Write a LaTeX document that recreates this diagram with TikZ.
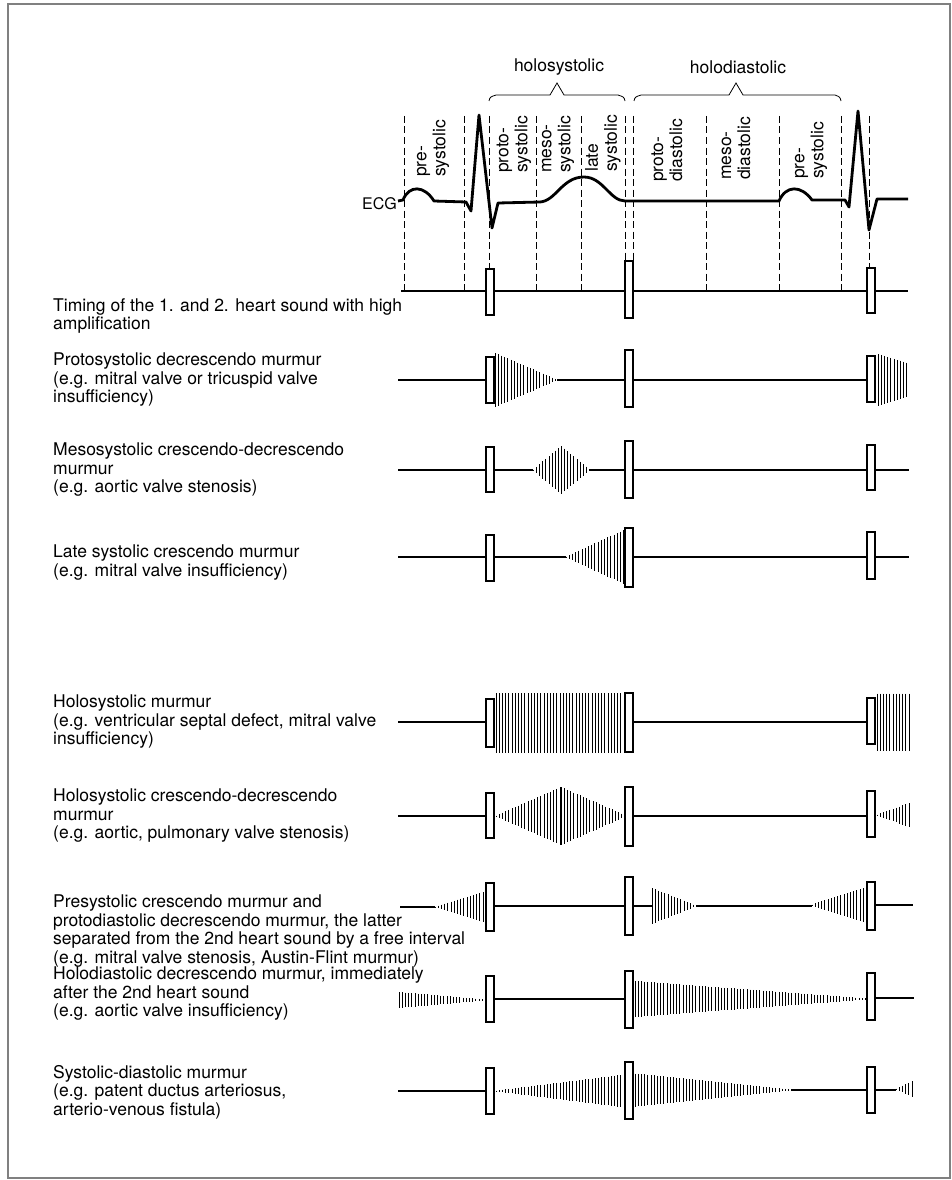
\documentclass[tikz,border=0pt]{standalone}
\usepackage{fontspec}
\setmainfont{TeX Gyre Heros}

% one murmur: lines from x #1 to x #2, half height #3 to #4, row at y #5
\newcommand{\murmur}[5]{%
  \pgfmathtruncatemacro{\mn}{(#2-#1)/3.2}
  \foreach \k in {0,...,\mn} {
    \pgfmathsetmacro{\mx}{#1+3.2*\k}
    \pgfmathsetmacro{\mh}{#3+(#4-#3)*(\mx-#1)/(#2-#1)}
    \draw[vib] (\mx,#5-\mh) -- (\mx,#5+\mh);
  }
}
% one heart sound box at x #1, from y #2 to y #3
\newcommand{\sound}[3]{\draw[hsbox] (#1-4,#2) rectangle (#1+4,#3);}

\begin{document}
\begin{tikzpicture}[x=1pt,y=-1pt,
    ecg/.style={line width=2.8pt, line join=round},
    phase/.style={dash pattern=on 7pt off 3.5pt, line width=0.7pt},
    trace/.style={line width=1.3pt},
    hsbox/.style={draw, line width=1.1pt, fill=white},
    vib/.style={line width=0.75pt},
    desc/.style={anchor=north west, align=left, inner sep=0pt,
      font=\fontsize{17.5}{18.5}\selectfont},
    phasetxt/.style={rotate=90, anchor=west, align=left, inner sep=0pt,
      font=\fontsize{17.5}{19}\selectfont}]
  \useasboundingbox (0,0) rectangle (952,1180);
  % Frame
  \draw[gray, line width=1.5pt] (8,4) rectangle (950,1178);

  % Braces
  \draw[line width=0.8pt] (489,101) .. controls (490,97) .. (496,95) -- (550,95)
    -- (557,83) -- (564,95) -- (618,95) .. controls (624,97) .. (625,101);
  \draw[line width=0.8pt] (634,101) .. controls (635,97) .. (641,95) -- (729,95)
    -- (736,83) -- (743,95) -- (835,95) .. controls (840,97) .. (841,101);
  \node[font=\fontsize{17.5}{19}\selectfont] (holosys) at (559,67) {holosystolic};
  \node[font=\fontsize{17.5}{19}\selectfont] (holodia) at (738,67) {holodiastolic};

  % Phase borders
  \foreach \x/\yb in {404/291, 464/291, 489/269, 536/291, 581/291, 625/261,
      633/261, 706/291, 779/291, 841/291, 869/268}
    \draw[phase] (\x,116) -- (\x,\yb);

  % Phase labels
  \node[phasetxt] (pre1) at (433,177) {pre-\\systolic};
  \node[phasetxt] (protosys) at (514,173) {proto-\\systolic};
  \node[phasetxt] (mesosys) at (558,173) {meso-\\systolic};
  \node[phasetxt] (latesys) at (603,172) {late\\systolic};
  \node[phasetxt] (protodia) at (667,182) {proto-\\diastolic};
  \node[phasetxt] (mesodia) at (736,180) {meso-\\diastolic};
  \node[phasetxt] (pre2) at (811,179) {pre-\\systolic};

  % ECG
  \node[anchor=east, inner sep=0pt, font=\fontsize{16}{18}\selectfont] (ecglab) at (397,204) {ECG};
  \draw[ecg] (398,201) -- (403,200) .. controls (409,185) and (424,185) .. (434,201)
    -- (466,202) -- (471,211) -- (479,115) -- (492,228) -- (498,203) -- (540,202)
    .. controls (556,201) and (562,177) .. (584,177)
    .. controls (603,177) and (610,201) .. (625,201) -- (779,201)
    .. controls (786,185) and (801,185) .. (812,200) -- (845,200) -- (849,207)
    -- (858,111) -- (869,230) -- (877,199) -- (908,199);

  % Timing of the heart sounds
  \node[desc] (timing) at (53,298) {Timing of the 1. and 2. heart sound with high\\amplification};
  \draw[trace] (401,291) -- (908,291);
  \sound{490}{269}{315} \sound{629}{261}{318} \sound{871}{268}{313}

  % Protosystolic
  \node[desc] (proto) at (53,353) {Protosystolic decrescendo murmur\\(e.g. mitral valve or tricuspid valve\\insufficiency)};
  \draw[trace] (398,380) -- (490,380);
  \draw[trace] (557,380) -- (871,380);
  \murmur{495}{557}{27}{0.5}{380}
  \murmur{878}{908}{26}{17}{380}
  \sound{490}{357}{403} \sound{629}{350}{407} \sound{871}{356}{402}

  % Mesosystolic
  \node[desc] (meso) at (53,443) {Mesosystolic crescendo-decrescendo\\murmur\\(e.g. aortic valve stenosis)};
  \draw[trace] (398,470) -- (533,470);
  \draw[trace] (590,470) -- (909,470);
  \murmur{533}{561}{0.5}{24}{470}
  \murmur{561}{590}{24}{0.5}{470}
  \sound{490}{447}{492} \sound{629}{441}{498} \sound{871}{445}{490}

  % Late systolic
  \node[desc] (late) at (53,545) {Late systolic crescendo murmur\\(e.g. mitral valve insufficiency)};
  \draw[trace] (398,557) -- (566,557);
  \draw[trace] (629,557) -- (909,557);
  \murmur{566}{624}{0.5}{27}{557}
  \sound{490}{535}{581} \sound{629}{528}{587} \sound{871}{532}{579}

  % Holosystolic
  \node[desc] (holo) at (53,695) {Holosystolic murmur\\(e.g. ventricular septal defect, mitral valve\\insufficiency)};
  \draw[trace] (398,722) -- (490,722);
  \draw[trace] (629,722) -- (871,722);
  \murmur{496}{624}{30}{30}{723}
  \murmur{877}{912}{28.5}{28.5}{722}
  \sound{490}{699}{747} \sound{629}{693}{752} \sound{871}{698}{744}

  % Holosystolic crescendo-decrescendo
  \node[desc] (holocd) at (53,789) {Holosystolic crescendo-decrescendo\\murmur\\(e.g. aortic, pulmonary valve stenosis)};
  \draw[trace] (398,816) -- (490,816);
  \draw[trace] (629,816) -- (871,816);
  \murmur{496}{561}{0.5}{29}{816}
  \murmur{561}{626}{29}{0.5}{816}
  \murmur{877}{912}{0.5}{13}{815}
  \sound{490}{793}{838} \sound{629}{787}{846} \sound{871}{791}{837}

  % Presystolic and protodiastolic
  \node[desc] (presys) at (53,895) {Presystolic crescendo murmur and\\protodiastolic decrescendo murmur, the latter\\separated from the 2nd heart sound by a free interval\\(e.g. mitral valve stenosis, Austin-Flint murmur)};
  \draw[trace] (400,907) -- (435,907);
  \draw[trace] (490,906) -- (652,906);
  \draw[trace] (696,906) -- (812,906);
  \draw[trace] (871,905) -- (913,905);
  \murmur{435}{486}{0.5}{16}{907}
  \murmur{652}{696}{18}{0.5}{906}
  \murmur{812}{867}{0.5}{18}{905}
  \sound{490}{883}{931} \sound{629}{877}{935} \sound{871}{882}{930}

  % Holodiastolic
  \node[desc] (holodiast) at (53,967) {Holodiastolic decrescendo murmur, immediately\\after the 2nd heart sound\\(e.g. aortic valve insufficiency)};
  \draw[trace] (490,999) -- (629,999);
  \draw[trace] (871,998) -- (914,998);
  \murmur{399}{486}{8}{0.5}{1000}
  \murmur{635}{867}{18}{0.5}{999}
  \sound{490}{976}{1022} \sound{629}{971}{1028} \sound{871}{973}{1020}

  % Systolic-diastolic
  \node[desc] (sysdia) at (53,1065) {Systolic-diastolic murmur\\(e.g. patent ductus arteriosus,\\arterio-venous fistula)};
  \draw[trace] (398,1091) -- (490,1091);
  \draw[trace] (791,1090) -- (896,1090);
  \murmur{496}{625}{0.5}{16.5}{1091}
  \murmur{635}{791}{16.5}{0.5}{1090}
  \murmur{896}{915}{0.5}{9}{1089}
  \sound{490}{1068}{1114} \sound{629}{1062}{1119} \sound{871}{1067}{1113}
\end{tikzpicture}
\end{document}
